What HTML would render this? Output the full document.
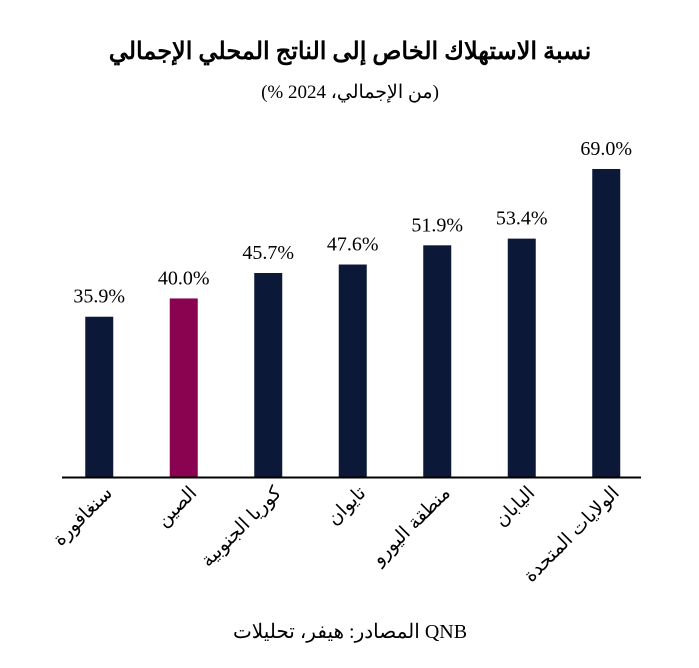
<!DOCTYPE html>
<html><head><meta charset="utf-8"><style>
body{margin:0;background:#fff;}
svg{display:block;font-family:"Liberation Serif","Noto Serif CJK SC",serif;}
</style></head><body>
<svg width="699" height="668" viewBox="0 0 699 668">
<text x="350" y="59" text-anchor="middle" font-size="24" font-weight="bold">نسبة الاستهلاك الخاص إلى الناتج المحلي الإجمالي</text>
<text x="350" y="98" text-anchor="middle" font-size="19">(% من الإجمالي، 2024)</text>
<g id="bars"></g>
<line x1="62" y1="477.5" x2="641" y2="477.5" stroke="#000" stroke-width="2"/>
<g id="labels"></g>
<text x="350" y="638" text-anchor="middle" font-size="20">المصادر: هيفر، تحليلات QNB</text>
</svg>
<script>
const categories=["سنغافورة","الصين","كوريا الجنوبية","تايوان","منطقة اليورو","اليابان","الولايات المتحدة"];
const values=[35.9,40.0,45.7,47.6,51.9,53.4,69.0];
const highlight=[false,true,false,false,false,false,false];
const ns="http://www.w3.org/2000/svg";
const x0=57,step=84.5,bw=28,base=477,pxPerUnit=4.464;
function xC(i){return x0+step*(i+0.5);}
function y(v){return base-v*pxPerUnit;}
const bars=document.getElementById('bars'),labels=document.getElementById('labels');
categories.forEach((c,i)=>{
  const r=document.createElementNS(ns,'rect');
  r.setAttribute('x',xC(i)-bw/2);r.setAttribute('y',y(values[i]));
  r.setAttribute('width',bw);r.setAttribute('height',base-y(values[i]));
  r.setAttribute('fill',highlight[i]?'#8a0350':'#0c1838');
  
  
  bars.appendChild(r);
  const t=document.createElementNS(ns,'text');
  t.setAttribute('x',xC(i));t.setAttribute('y',y(values[i])-14);
  t.setAttribute('text-anchor','middle');t.setAttribute('font-size','20');
  t.textContent=values[i].toFixed(1)+'%';
  
  
  bars.appendChild(t);
  const l=document.createElementNS(ns,'text');
  const lx=xC(i)+14,ly=494;
  l.setAttribute('x',lx);l.setAttribute('y',ly);
  l.setAttribute('text-anchor','end');l.setAttribute('font-size','19');
  l.setAttribute('font-family','"Liberation Sans","Noto Sans CJK SC",sans-serif');
  l.setAttribute('transform','rotate(-45 '+lx+' '+ly+')');
  l.textContent=c;
  
  
  labels.appendChild(l);
});
</script>
</body></html>
